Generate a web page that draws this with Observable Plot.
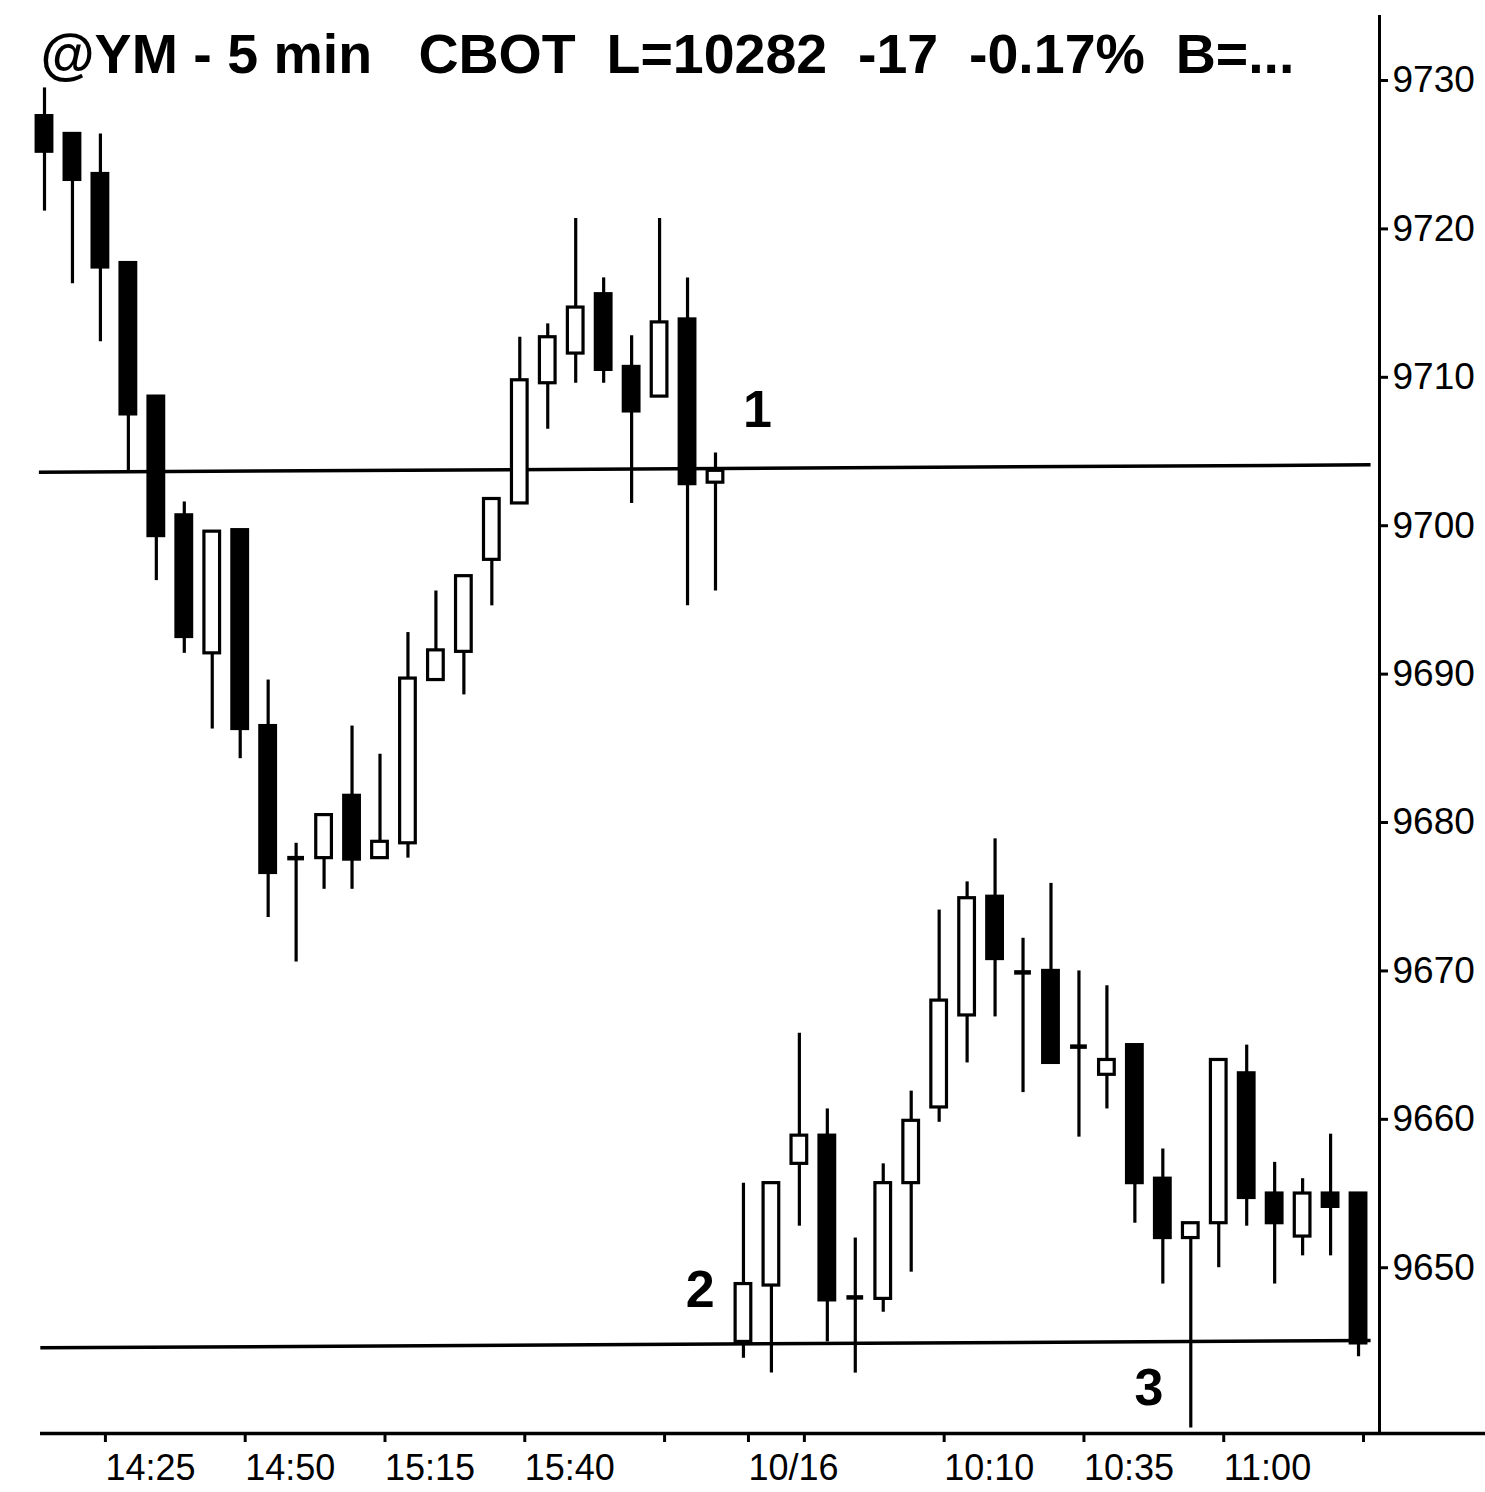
<!DOCTYPE html>
<html><head><meta charset="utf-8">
<script src="https://cdn.jsdelivr.net/npm/d3@7"></script>
<script src="https://cdn.jsdelivr.net/npm/@observablehq/plot@0.6"></script>
<style>
html,body{margin:0;padding:0;background:#fff;}
svg text{white-space:pre;}
</style></head><body><div id="chart"></div>
<script>
// 5-minute bars: 10/15 afternoon session then 10/16 morning
const times = [
  "14:15","14:20","14:25","14:30","14:35","14:40","14:45","14:50","14:55","15:00",
  "15:05","15:10","15:15","15:20","15:25","15:30","15:35","15:40","15:45","15:50",
  "15:55","16:00","16:05","16:10","16:15",
  "09:35","09:40","09:45","09:50","09:55","10:00","10:05","10:10","10:15","10:20",
  "10:25","10:30","10:35","10:40","10:45","10:50","10:55","11:00","11:05","11:10",
  "11:15","11:20","11:25"];
const open  = [9727.6,9726.4,9723.7,9717.7,9708.7,9700.7,9691.4,9699.7,9686.5,9677.6,
               9677.6,9681.8,9677.6,9678.6,9689.6,9691.5,9697.7,9701.5,9709.6,9711.6,
               9715.6,9710.7,9708.7,9713.9,9702.9,
               9645.0,9648.8,9657.0,9658.9,9648.0,9647.9,9655.7,9660.8,9667.0,9675.0,
               9669.9,9670.0,9664.9,9663.0,9665.0,9656.0,9652.0,9653.0,9663.1,9655.0,
               9652.1,9655.0,9655.0];
const high  = [9729.5,9726.4,9726.4,9717.7,9708.7,9701.6,9699.6,9699.7,9689.6,9678.6,
               9680.5,9686.5,9684.6,9692.8,9695.6,9696.6,9701.8,9712.7,9713.6,9720.7,
               9716.7,9712.8,9720.7,9716.7,9704.9,
               9655.7,9655.7,9665.8,9660.7,9652.0,9657.0,9661.9,9674.1,9676.0,9678.9,
               9672.2,9675.9,9670.0,9669.0,9665.0,9658.0,9653.0,9664.0,9665.0,9657.1,
               9656.0,9659.0,9655.0];
const low   = [9721.2,9716.3,9712.4,9703.7,9696.3,9691.4,9686.3,9684.3,9673.6,9670.6,
               9675.5,9675.5,9677.6,9677.6,9689.6,9688.6,9694.6,9701.5,9706.5,9709.6,
               9709.6,9701.5,9708.7,9694.6,9695.6,
               9643.9,9642.9,9652.8,9645.0,9642.9,9647.0,9649.7,9659.8,9663.8,9666.9,
               9661.8,9663.8,9658.8,9660.7,9653.0,9648.9,9639.2,9650.0,9652.8,9648.9,
               9650.8,9650.8,9644.0];
const close = [9725.2,9723.3,9717.4,9707.5,9699.3,9692.5,9699.6,9686.3,9676.6,9677.6,
               9680.5,9677.5,9678.7,9689.7,9691.6,9696.6,9701.8,9709.8,9712.7,9714.7,
               9710.5,9707.7,9713.7,9702.8,9703.7,
               9648.9,9655.7,9658.9,9647.8,9648.0,9655.7,9659.9,9668.0,9674.9,9670.8,
               9669.9,9663.8,9664.9,9664.0,9655.7,9652.0,9653.0,9664.0,9654.7,9653.0,
               9655.0,9654.1,9644.9];

// axis ticks
const yTicks = [9650, 9660, 9670, 9680, 9690, 9700, 9710, 9720, 9730];
const xTickBars = ["14:25","14:50","15:15","15:40","16:05","09:35","09:45","10:10","10:35","11:00","11:25"];
const xTickLabels = ["14:25","14:50","15:15","15:40","","10/16","","10:10","10:35","11:00",""];

// hand-drawn horizontal levels (start bar offset, end bar offset, value at start, value at end)
const levelFromBar = [-0.2, -0.15];
const levelToBar = [47.43, 47.43];
const levelStartValue = [9703.6, 9644.6];
const levelEndValue = [9704.1, 9645.1];

// numbered annotations
const noteText = ["1", "2", "3"];
const noteBar = [25.5, 23.45, 39.5];
const noteValue = [9707.8, 9648.5, 9641.9];

const title = "@YM - 5 min   CBOT  L=10282  -17  -0.17%  B=...";

// ---- build
const bars = times.map((t, i) => ({t, i, open: open[i], high: high[i], low: low[i], close: close[i]}));
const bodies = bars.filter(d => d.open !== d.close);
const dojis = bars.filter(d => d.open === d.close);
const idx = new Map(times.map((t, i) => [t, i]));
const tickIdx = xTickBars.map(t => idx.get(t));
const tickLabelMap = new Map(tickIdx.map((v, k) => [v, xTickLabels[k]]));
const levels = levelFromBar.map((f, k) => ({x1: f, x2: levelToBar[k], y1: levelStartValue[k], y2: levelEndValue[k]}));
const notes = noteText.map((t, k) => ({t, x: noteBar[k], y: noteValue[k]}));

const W = 1485, H = 1492, mL = 40, mR = 106, mT = 15, mB = 59;
const xDomain = [-0.143, 47.75];
const yDomain = [9638.83, 9734.38];
const pxPerBar = (W - mL - mR) / (xDomain[1] - xDomain[0]);
const xAxisEnd = xDomain[1] + mR / pxPerBar;
const half = 0.28;
const font = "'Liberation Sans', Arial, Helvetica, sans-serif";

const chart = Plot.plot({
  width: W, height: H,
  marginLeft: mL, marginRight: mR, marginTop: mT, marginBottom: mB,
  x: {type: "linear", domain: xDomain, axis: null},
  y: {type: "linear", domain: yDomain, axis: null},
  style: {fontFamily: font, background: "#fff", color: "#000", overflow: "visible"},
  marks: [
    // axis lines
    Plot.ruleX([xDomain[1]], {stroke: "#000", strokeWidth: 3}),
    Plot.ruleY([yDomain[0]], {x1: xDomain[0], x2: xAxisEnd, stroke: "#000", strokeWidth: 3.5, clip: false}),
    Plot.axisY(yTicks, {anchor: "right", tickSize: 8, tickPadding: 5, fontSize: 37, strokeWidth: 3,
      tickFormat: d => String(d), label: null, textAnchor: "start"}),
    Plot.axisX(tickIdx, {anchor: "bottom", tickSize: 9, tickPadding: 12, fontSize: 36, strokeWidth: 3,
      tickFormat: d => tickLabelMap.get(d) ?? "", label: null, textAnchor: "start", dx: 5}),
    // levels
    Plot.link(levels, {x1: "x1", x2: "x2", y1: "y1", y2: "y2", stroke: "#000", strokeWidth: 3.5}),
    // wicks
    Plot.ruleX(bars, {x: "i", y1: "low", y2: "high", stroke: "#000", strokeWidth: 3.2}),
    // bodies
    Plot.rect(bodies, {x1: d => d.i - half, x2: d => d.i + half, y1: "open", y2: "close",
      fill: d => d.close > d.open ? "#fff" : "#000", stroke: "#000", strokeWidth: 3.2}),
    Plot.ruleY(dojis, {y: "close", x1: d => d.i - 0.3, x2: d => d.i + 0.3, stroke: "#000", strokeWidth: 4.5}),
    // annotations
    Plot.text(notes, {x: "x", y: "y", text: "t", fontSize: 52, fontWeight: "bold", fill: "#000"}),
    // title
    Plot.text([title], {frameAnchor: "top-left", dy: 18, fontSize: 55.5, fontWeight: "bold", fill: "#000"})
  ]
});
document.getElementById("chart").appendChild(chart);
</script>
</body></html>
